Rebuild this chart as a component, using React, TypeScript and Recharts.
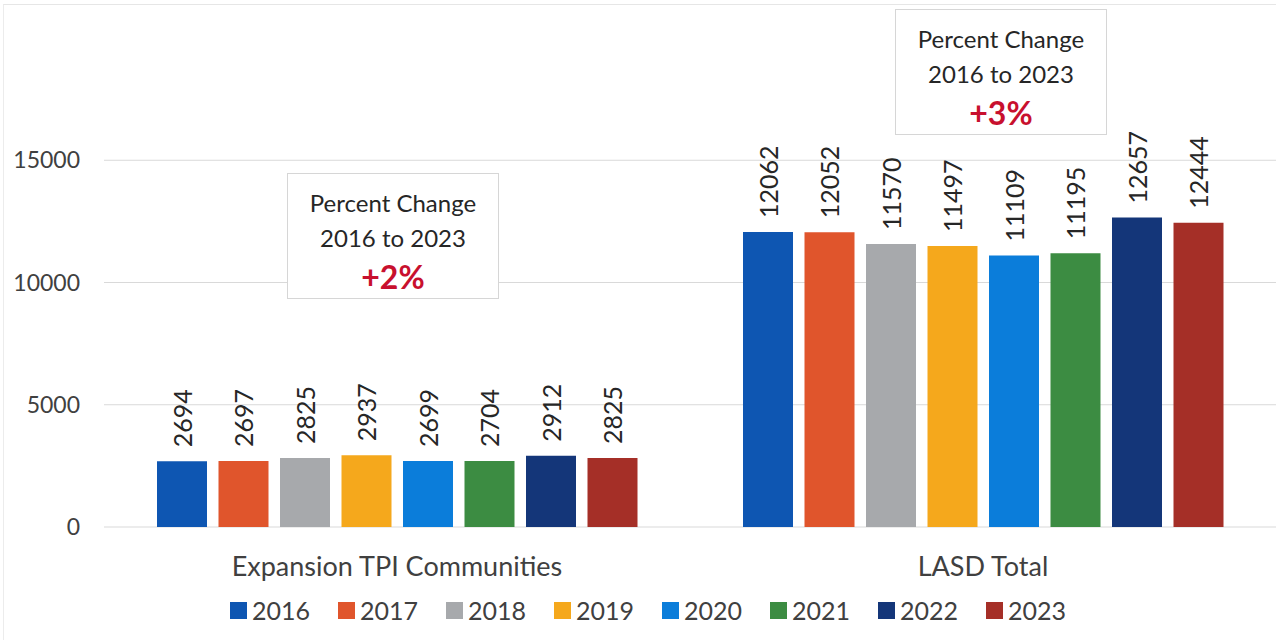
import {
  BarChart,
  Bar,
  XAxis,
  YAxis,
  CartesianGrid,
  Legend,
  LabelList,
} from "recharts";

const CATEGORIES = ["Expansion TPI Communities", "LASD Total"];
const YEARS = ["2016", "2017", "2018", "2019", "2020", "2021", "2022", "2023"];

const V2016 = [2694, 12062];
const V2017 = [2697, 12052];
const V2018 = [2825, 11570];
const V2019 = [2937, 11497];
const V2020 = [2699, 11109];
const V2021 = [2704, 11195];
const V2022 = [2912, 12657];
const V2023 = [2825, 12444];

const Y_TICKS = [0, 5000, 10000, 15000];
const CHANGES = ["+2%", "+3%"];

const SERIES = [V2016, V2017, V2018, V2019, V2020, V2021, V2022, V2023];

const COLORS = [
  "#0E56B2",
  "#E0552C",
  "#A7A9AC",
  "#F5A81C",
  "#0B7DDA",
  "#3C8C42",
  "#143679",
  "#A52F27",
];

const FONT = "Lato, 'Open Sans', sans-serif";

const data = CATEGORIES.map((name, i) => {
  const row: any = { name };
  YEARS.forEach((y, j) => {
    row[y] = SERIES[j][i];
  });
  return row;
});

function BarLabel(props: any) {
  const { x, y, width, value } = props;
  const cx = Number(x) + Number(width) / 2;
  const ty = Number(y) - 14;
  return (
    <text
      x={cx}
      y={ty}
      transform={`rotate(-90 ${cx} ${ty})`}
      textAnchor="start"
      dominantBaseline="central"
      fill="#262626"
      fontSize={25}
      fontFamily={FONT}
    >
      {value}
    </text>
  );
}

function CatTick(props: any) {
  const { x, y, payload } = props;
  return (
    <text
      x={x}
      y={y + 38}
      textAnchor="middle"
      dominantBaseline="central"
      fill="#404040"
      fontSize={27}
      fontFamily={FONT}
    >
      {payload.value}
    </text>
  );
}

function LegendBox() {
  return (
    <div
      style={{
        height: 36,
        display: "flex",
        justifyContent: "center",
        alignItems: "center",
        gap: 28,
        paddingLeft: 20,
        fontFamily: FONT,
        fontSize: 25,
        color: "#404040",
      }}
    >
      {YEARS.map((y, i) => (
        <div key={y} style={{ display: "flex", alignItems: "center", gap: 5 }}>
          <span
            style={{
              width: 17,
              height: 17,
              background: COLORS[i],
              display: "inline-block",
            }}
          />
          <span>{y}</span>
        </div>
      ))}
    </div>
  );
}

function NoteBox({ left, top, change }: { left: number; top: number; change: string }) {
  return (
    <div
      style={{
        position: "absolute",
        left,
        top,
        width: 212,
        height: 126,
        border: "1px solid #d6d6d6",
        background: "#fff",
        fontFamily: FONT,
        color: "#262626",
        textAlign: "center",
        boxSizing: "border-box",
      }}
    >
      <div style={{ fontSize: 24, lineHeight: "35px", marginTop: 11 }}>Percent Change</div>
      <div style={{ fontSize: 24, lineHeight: "35px" }}>2016 to 2023</div>
      <div
        style={{
          fontSize: 32,
          lineHeight: "40px",
          fontWeight: 700,
          color: "#C8102E",
          marginTop: 2,
        }}
      >
        {change}
      </div>
    </div>
  );
}

export default function App() {
  return (
    <div
      style={{
        position: "absolute",
        left: 0,
        top: 0,
        width: 1276,
        height: 640,
        background: "#fff",
        overflow: "hidden",
      }}
    >
      <div
        style={{
          position: "absolute",
          left: 3,
          top: 4,
          right: 0,
          bottom: 0,
          borderTop: "1px solid #e6e6e6",
          borderLeft: "1px solid #ececec",
        }}
      />
      <BarChart
        width={1276}
        height={640}
        data={data}
        margin={{ top: 38, right: 0, left: 0, bottom: 12 }}
        barCategoryGap={53}
        barGap={11.5}
      >
        <CartesianGrid vertical={false} stroke="#d9d9d9" horizontalValues={Y_TICKS} />
        <XAxis
          dataKey="name"
          height={65}
          axisLine={false}
          tickLine={false}
          tickSize={0}
          tickMargin={0}
          tick={<CatTick />}
        />
        <YAxis
          width={104}
          domain={[0, 20000]}
          ticks={Y_TICKS}
          axisLine={false}
          tickLine={false}
          tickSize={0}
          tickMargin={24}
          tick={{ fill: "#404040", fontSize: 23, fontFamily: FONT }}
        />
        <Legend verticalAlign="bottom" content={<LegendBox />} />
        {YEARS.map((y, i) => (
          <Bar key={y} dataKey={y} fill={COLORS[i]} isAnimationActive={false}>
            <LabelList dataKey={y} content={<BarLabel />} />
          </Bar>
        ))}
      </BarChart>
      <NoteBox left={287} top={173} change={CHANGES[0]} />
      <NoteBox left={895} top={9} change={CHANGES[1]} />
    </div>
  );
}
